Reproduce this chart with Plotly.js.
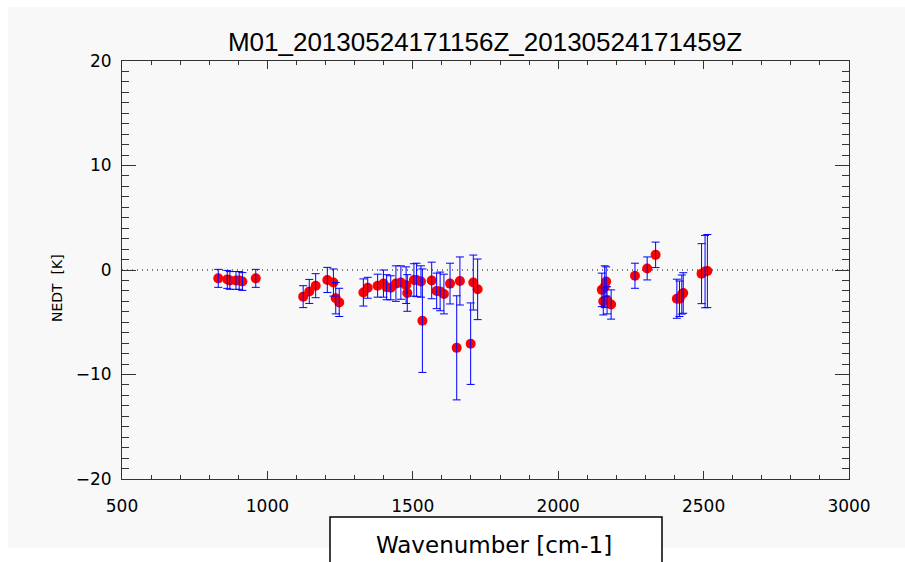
<!DOCTYPE html>
<html><head><meta charset="utf-8">
<script src="https://cdn.plot.ly/plotly-3.0.1.min.js"></script>
<style>html,body{margin:0;padding:0;background:#fff}#chart{width:905px;height:562px}</style>
</head><body><div id="chart"></div>
<script>
// ---- data ----
const wavenumber = [831, 862, 871, 892, 903, 914, 960,
  1123, 1144, 1166, 1206, 1227, 1235, 1247,
  1330, 1345, 1379, 1399, 1410, 1424, 1442, 1459, 1477, 1481,
  1504, 1513, 1528, 1533, 1565, 1582, 1594, 1607, 1628, 1651, 1662,
  1699, 1708, 1723,
  2150, 2155, 2160, 2165, 2168, 2182, 2264, 2306, 2335,
  2408, 2417, 2425, 2430, 2493, 2505, 2513];
const nedt = [-0.8, -0.9, -1.0, -1.0, -1.0, -1.1, -0.8,
  -2.55, -2.05, -1.5, -0.95, -1.2, -2.7, -3.1,
  -2.15, -1.7, -1.5, -1.3, -1.65, -1.7, -1.3, -1.2, -1.45, -2.2,
  -0.95, -0.95, -1.1, -4.85, -1.0, -2.0, -2.05, -2.3, -1.3, -7.45, -1.05,
  -7.05, -1.2, -1.85,
  -1.9, -3.0, -1.6, -1.1, -2.9, -3.3, -0.55, 0.15, 1.45,
  -2.75, -2.75, -2.35, -2.2, -0.35, -0.15, -0.1];
const nedtErr = [0.86, 0.86, 0.85, 0.85, 0.85, 0.85, 0.86,
  1.05, 1.15, 1.15, 1.2, 1.3, 1.5, 1.35,
  1.3, 1.0, 1.1, 1.3, 1.2, 1.15, 1.7, 1.6, 1.75, 1.75,
  1.55, 1.6, 1.5, 4.95, 1.75, 1.7, 1.85, 1.9, 1.95, 4.98, 2.3,
  3.9, 2.63, 2.9,
  1.6, 1.3, 2.0, 1.4, 1.3, 1.4, 1.2, 1.1, 1.22,
  1.87, 1.7, 1.87, 1.94, 2.87, 3.46, 3.5];
const xTickVals = [500, 1000, 1500, 2000, 2500, 3000];
const xTickText = ['500', '1000', '1500', '2000', '2500', '3000'];
const yTickVals = [-20, -10, 0, 10, 20];
const yTickText = ['\u221220', '\u221210', '0', '10', '20'];
const xRange = [500, 3000];
const yRange = [-20, 20];
const zeroLevel = [0, 0];

const titleText = 'M01_20130524171156Z_20130524171459Z';
const xLabel = 'Wavenumber [cm-1]';
const yLabel = 'NEDT  [K]';

// ---- figure geometry (pixels) ----
const W = 905, H = 562;
const M = {l: 122, r: 56, t: 61, b: 83};
const pw = W - M.l - M.r, ph = H - M.t - M.b;
const px = p => (p - M.l) / pw;          // pixel x -> paper x
const py = p => (H - M.b - p) / ph;      // pixel y -> paper y

const axisCol = '#333333';
const bg = '#f8f8f8';

const traces = [
  {x: xRange, y: zeroLevel, mode: 'lines', hoverinfo: 'skip',
   line: {color: '#000', width: 1, dash: '1px,4px'}, showlegend: false},
  {x: wavenumber, y: nedt, mode: 'markers', showlegend: false,
   marker: {color: '#ff0000', size: 10}},
  {x: wavenumber, y: nedt, mode: 'markers', showlegend: false,
   marker: {color: 'rgba(0,0,0,0)', size: 1},
   error_y: {type: 'data', array: nedtErr, visible: true, color: '#0000ff', thickness: 1, width: 4}}
];

const layout = {
  width: W, height: H, margin: M,
  paper_bgcolor: '#ffffff', plot_bgcolor: bg,
  showlegend: false,
  title: {text: titleText, x: px(485), xref: 'paper', xanchor: 'center',
          y: 1 - 42 / H, yref: 'container', yanchor: 'middle',
          font: {family: 'Liberation Sans, Arial, sans-serif', size: 26, color: '#000'}},
  xaxis: {range: xRange, tickmode: 'array', tickvals: xTickVals, ticktext: xTickText,
          ticks: 'inside', ticklen: 8, tickwidth: 1, tickcolor: axisCol,
          showline: true, linecolor: axisCol, linewidth: 1, mirror: 'allticks',
          showgrid: false, zeroline: false, ticklabelstandoff: 12,
          tickfont: {family: 'DejaVu Sans, sans-serif', size: 17, color: '#000'},
          minor: {tickmode: 'linear', tick0: 500, dtick: 100, ticks: 'inside', ticklen: 4, tickcolor: axisCol, showgrid: false}},
  yaxis: {range: yRange, tickmode: 'array', tickvals: yTickVals, ticktext: yTickText,
          ticks: 'inside', ticklen: 14, tickwidth: 1, tickcolor: axisCol,
          showline: true, linecolor: axisCol, linewidth: 1, mirror: 'allticks',
          showgrid: false, zeroline: false, ticklabelstandoff: 6,
          tickfont: {family: 'DejaVu Sans, sans-serif', size: 17, color: '#000'},
          minor: {tickmode: 'linear', tick0: -20, dtick: 1, ticks: 'inside', ticklen: 7, tickcolor: axisCol, showgrid: false}},
  shapes: [
    {type: 'rect', xref: 'paper', yref: 'paper', layer: 'below',
     x0: px(8), x1: px(905), y0: py(7), y1: py(548),
     fillcolor: bg, line: {width: 0}},
    {type: 'rect', xref: 'paper', yref: 'paper', layer: 'above',
     x0: px(330), x1: px(662), y0: py(517), y1: py(575),
     fillcolor: '#ffffff', line: {color: '#000', width: 1.5}}
  ],
  annotations: [
    {text: yLabel, xref: 'paper', yref: 'paper', x: px(57), y: py(288),
     textangle: -90, showarrow: false, xanchor: 'center', yanchor: 'middle',
     font: {family: 'DejaVu Sans, sans-serif', size: 14, color: '#000'}},
    {text: xLabel, xref: 'paper', yref: 'paper', x: px(494), y: py(545),
     showarrow: false, xanchor: 'center', yanchor: 'middle',
     font: {family: 'DejaVu Sans, sans-serif', size: 23, color: '#000'}}
  ]
};

Plotly.newPlot('chart', traces, layout, {staticPlot: true, displayModeBar: false});
</script>
</body></html>
